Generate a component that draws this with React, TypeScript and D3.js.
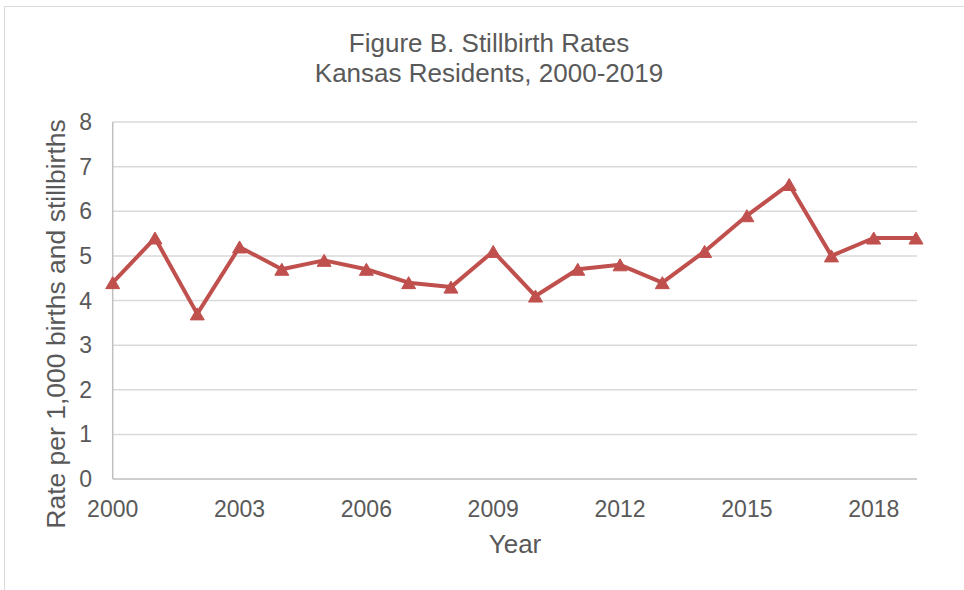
import React from "react";
import * as d3 from "d3";

const years = [2000, 2001, 2002, 2003, 2004, 2005, 2006, 2007, 2008, 2009, 2010, 2011, 2012, 2013, 2014, 2015, 2016, 2017, 2018, 2019];
const rates = [4.4, 5.4, 3.7, 5.2, 4.7, 4.9, 4.7, 4.4, 4.3, 5.1, 4.1, 4.7, 4.8, 4.4, 5.1, 5.9, 6.6, 5.0, 5.4, 5.4];
const yTicks = [0, 1, 2, 3, 4, 5, 6, 7, 8];
const xTickLabels = [2000, 2003, 2006, 2009, 2012, 2015, 2018];
const titleLines = ["Figure B. Stillbirth Rates", "Kansas Residents, 2000-2019"];

const W = 964;
const H = 590;
const FONT = "'Liberation Sans', Arial, sans-serif";
const TXT = "#595959";
const RED = "#C0504D";

export default function App() {
  const x = d3.scaleLinear().domain([2000, 2019]).range([112.7, 916]);
  const y = d3.scaleLinear().domain([0, 8]).range([479, 122]);
  const line = d3.line<number>().x((_, i) => x(years[i])).y((d) => y(d));
  const tw = 7, th = 6;
  const tri = `M0,${-th}L${tw},${th}L${-tw},${th}Z`;

  return (
    <svg width={W} height={H} style={{ position: "absolute", left: 0, top: 0, background: "#fff" }} fontFamily={FONT}>
      <rect x={4.5} y={6.5} width={W + 10} height={H + 10} fill="#fff" stroke="#d9d9d9" strokeWidth={1} />
      {titleLines.map((t, i) => (
        <text key={t} x={489} y={52 + i * 30} textAnchor="middle" fontSize={26} fill={TXT}>{t}</text>
      ))}
      {yTicks.map((v) => (
        <g key={v}>
          {v > 0 && <line x1={x(2000)} x2={917} y1={y(v)} y2={y(v)} stroke="#d9d9d9" strokeWidth={1.5} />}
          <text x={92} y={y(v) + 8} textAnchor="end" fontSize={23} fill={TXT}>{v}</text>
        </g>
      ))}
      <line x1={x(2000)} x2={x(2000)} y1={y(8)} y2={y(0)} stroke="#bfbfbf" strokeWidth={1.5} />
      <line x1={x(2000)} x2={917} y1={y(0)} y2={y(0)} stroke="#bfbfbf" strokeWidth={1.5} />
      {xTickLabels.map((v) => (
        <text key={v} x={x(v)} y={517} textAnchor="middle" fontSize={23} fill={TXT}>{v}</text>
      ))}
      <text x={515} y={553} textAnchor="middle" fontSize={26} fill={TXT}>Year</text>
      <text transform={`translate(65,324) rotate(-90)`} textAnchor="middle" fontSize={26.5} fill={TXT}>Rate per 1,000 births and stillbirths</text>
      <path d={line(rates) || ""} fill="none" stroke={RED} strokeWidth={4} strokeLinejoin="round" />
      {rates.map((r, i) => (
        <path key={i} d={tri} transform={`translate(${x(years[i])},${y(r)})`} fill={RED} stroke={RED} strokeWidth={1} />
      ))}
    </svg>
  );
}
